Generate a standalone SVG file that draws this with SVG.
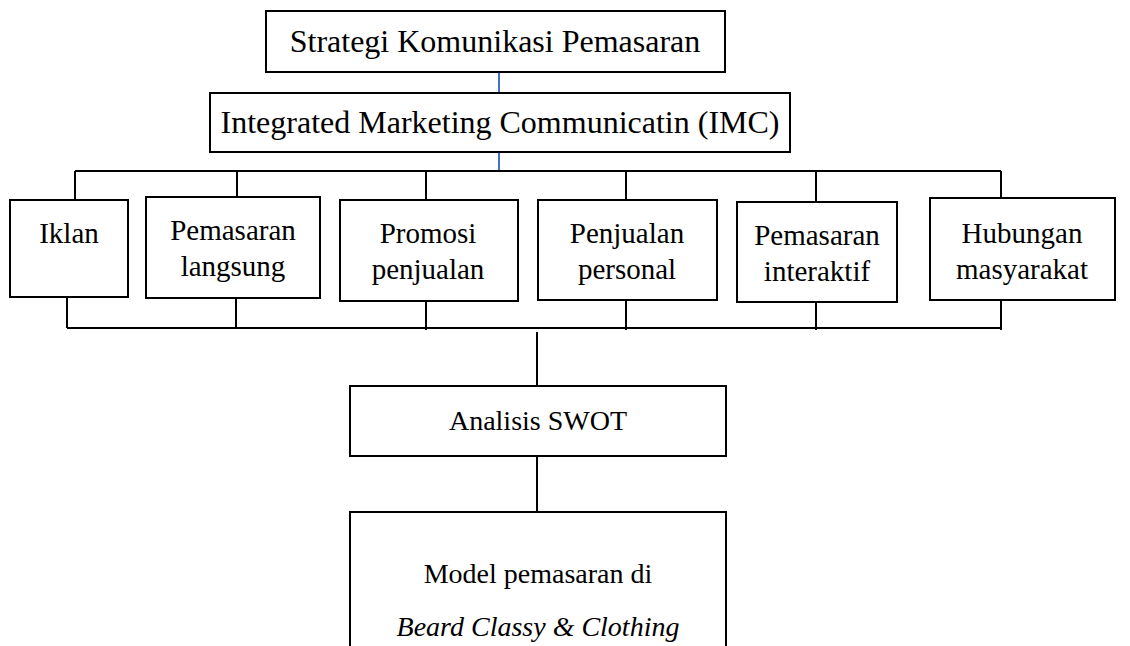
<svg xmlns="http://www.w3.org/2000/svg" width="1130" height="646" viewBox="0 0 1130 646">
<style>
.box{fill:#fff;stroke:#000;stroke-width:2}
.ln{stroke:#000;stroke-width:2;fill:none}
.bl{stroke:#4472c4;stroke-width:2;fill:none}
.t{font-family:"Liberation Serif","Times New Roman",serif;fill:#000;text-anchor:middle}
.big{font-size:32px}
.md{font-size:29px}
.sm{font-size:28px}
.it{font-style:italic}
</style>
<rect width="1130" height="646" fill="#fff"/>
<g id="connectors">
<line class="bl" x1="499" y1="72" x2="499" y2="93"/>
<line class="bl" x1="499" y1="152" x2="499" y2="171"/>
<line class="ln" x1="75" y1="171" x2="1001" y2="171"/>
<line class="ln" x1="75" y1="171" x2="75" y2="200"/>
<line class="ln" x1="237" y1="171" x2="237" y2="197"/>
<line class="ln" x1="426" y1="171" x2="426" y2="200"/>
<line class="ln" x1="626" y1="171" x2="626" y2="200"/>
<line class="ln" x1="816" y1="171" x2="816" y2="202"/>
<line class="ln" x1="1001" y1="171" x2="1001" y2="198"/>
<line class="ln" x1="67" y1="328" x2="1001" y2="328"/>
<line class="ln" x1="67" y1="297" x2="67" y2="328"/>
<line class="ln" x1="236" y1="298" x2="236" y2="328"/>
<line class="ln" x1="426" y1="301" x2="426" y2="330"/>
<line class="ln" x1="626" y1="300" x2="626" y2="330"/>
<line class="ln" x1="816" y1="302" x2="816" y2="330"/>
<line class="ln" x1="1001" y1="300" x2="1001" y2="330"/>
<line class="ln" x1="537" y1="332" x2="537" y2="386"/>
<line class="ln" x1="537" y1="456" x2="537" y2="512"/>
</g>
<g id="n-strategi">
<rect class="box" x="266" y="11" width="459" height="61"/>
<text class="t big" x="495" y="52">Strategi Komunikasi Pemasaran</text>
</g>
<g id="n-imc">
<rect class="box" x="210" y="93" width="580" height="59"/>
<text class="t big" x="500" y="133">Integrated Marketing Communicatin (IMC)</text>
</g>
<g id="n-iklan">
<rect class="box" x="10" y="200" width="118" height="97"/>
<text class="t md" x="69" y="243">Iklan</text>
</g>
<g id="n-langsung">
<rect class="box" x="146" y="197" width="174" height="101"/>
<text class="t md" x="233" y="240">Pemasaran</text>
<text class="t md" x="233" y="276">langsung</text>
</g>
<g id="n-promosi">
<rect class="box" x="340" y="200" width="178" height="101"/>
<text class="t md" x="428" y="243">Promosi</text>
<text class="t md" x="428" y="279">penjualan</text>
</g>
<g id="n-personal">
<rect class="box" x="538" y="200" width="179" height="100"/>
<text class="t md" x="627" y="243">Penjualan</text>
<text class="t md" x="627" y="279">personal</text>
</g>
<g id="n-interaktif">
<rect class="box" x="737" y="202" width="160" height="100"/>
<text class="t md" x="817" y="245">Pemasaran</text>
<text class="t md" x="817" y="281">interaktif</text>
</g>
<g id="n-humas">
<rect class="box" x="930" y="198" width="185" height="102"/>
<text class="t md" x="1022" y="243">Hubungan</text>
<text class="t md" x="1022" y="279">masyarakat</text>
</g>
<g id="n-swot">
<rect class="box" x="350" y="386" width="376" height="70"/>
<text class="t sm" x="538" y="430">Analisis SWOT</text>
</g>
<g id="n-model">
<rect class="box" x="350" y="512" width="376" height="160"/>
<text class="t sm" x="538" y="583">Model pemasaran di</text>
<text class="t sm it" x="538" y="636">Beard Classy &amp; Clothing</text>
</g>
</svg>
